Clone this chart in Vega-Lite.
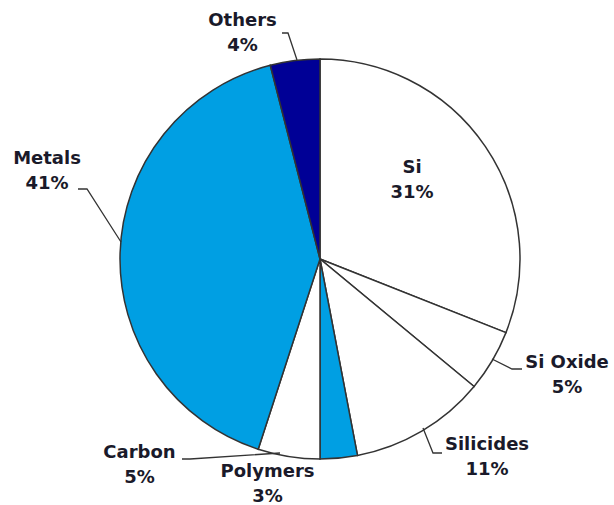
{
  "$schema": "https://vega.github.io/schema/vega-lite/v6.json",
  "width": 586,
  "height": 490,
  "autosize": {"type": "none"},
  "padding": {"left": 27, "top": 14, "right": 1, "bottom": 1},
  "background": "white",
  "config": {"view": {"stroke": null}},
  "datasets": {
    "slices": [
      {"k": 1, "name": "Si", "pct": 31, "lx": 0.46, "ly": 0.3925},
      {"k": 2, "name": "Si Oxide", "pct": 5, "lx": 1.235, "ly": -0.5825},
      {"k": 3, "name": "Silicides", "pct": 11, "lx": 0.835, "ly": -0.9925},
      {"k": 4, "name": "Polymers", "pct": 3, "lx": -0.2625, "ly": -1.125},
      {"k": 5, "name": "Carbon", "pct": 5, "lx": -0.9025, "ly": -1.03},
      {"k": 6, "name": "Metals", "pct": 41, "lx": -1.365, "ly": 0.44},
      {"k": 7, "name": "Others", "pct": 4, "lx": -0.3875, "ly": 1.1275}
    ],
    "leaders": [
      {"lead": "Others", "i": 1, "x": -0.19, "y": 1.13},
      {"lead": "Others", "i": 2, "x": -0.16, "y": 1.13},
      {"lead": "Others", "i": 3, "x": -0.115, "y": 0.995},
      {"lead": "Metals", "i": 1, "x": -1.21, "y": 0.35},
      {"lead": "Metals", "i": 2, "x": -1.165, "y": 0.35},
      {"lead": "Metals", "i": 3, "x": -0.995, "y": 0.085},
      {"lead": "Si Oxide", "i": 1, "x": 0.86, "y": -0.5},
      {"lead": "Si Oxide", "i": 2, "x": 0.96, "y": -0.55},
      {"lead": "Si Oxide", "i": 3, "x": 1.01, "y": -0.55},
      {"lead": "Silicides", "i": 1, "x": 0.515, "y": -0.845},
      {"lead": "Silicides", "i": 2, "x": 0.565, "y": -0.97},
      {"lead": "Silicides", "i": 3, "x": 0.61, "y": -0.97},
      {"lead": "Carbon", "i": 1, "x": -0.69, "y": -1.0},
      {"lead": "Carbon", "i": 2, "x": -0.65, "y": -1.0},
      {"lead": "Carbon", "i": 3, "x": -0.2, "y": -0.97}
    ]
  },
  "layer": [
    {
      "data": {"name": "slices"},
      "mark": {"type": "arc", "outerRadius": 200, "stroke": "#333333", "strokeWidth": 1.5},
      "encoding": {
        "theta": {"field": "pct", "type": "quantitative", "stack": true},
        "order": {"field": "k", "type": "quantitative"},
        "color": {
          "field": "name",
          "type": "nominal",
          "legend": null,
          "scale": {
            "domain": ["Si", "Si Oxide", "Silicides", "Polymers", "Carbon", "Metals", "Others"],
            "range": ["#ffffff", "#ffffff", "#ffffff", "#009fe3", "#ffffff", "#009fe3", "#000096"]
          }
        }
      }
    },
    {
      "data": {"name": "leaders"},
      "mark": {"type": "line", "stroke": "#333333", "strokeWidth": 1.3},
      "encoding": {
        "x": {"field": "x", "type": "quantitative", "axis": null, "scale": {"domain": [-1.465, 1.465], "nice": false, "zero": false}},
        "y": {"field": "y", "type": "quantitative", "axis": null, "scale": {"domain": [-1.225, 1.225], "nice": false, "zero": false}},
        "detail": {"field": "lead"},
        "order": {"field": "i", "type": "quantitative"}
      }
    },
    {
      "data": {"name": "slices"},
      "transform": [
        {"calculate": "datum.name + '\\n' + datum.pct + '%'", "as": "label"}
      ],
      "mark": {
        "type": "text",
        "font": "DejaVu Sans",
        "fontWeight": "bold",
        "fontSize": 18,
        "lineHeight": 25,
        "lineBreak": "\n",
        "align": "center",
        "baseline": "middle",
        "dy": -12.5,
        "fill": "#1a1a2a"
      },
      "encoding": {
        "x": {"field": "lx", "type": "quantitative", "axis": null, "scale": {"domain": [-1.465, 1.465], "nice": false, "zero": false}},
        "y": {"field": "ly", "type": "quantitative", "axis": null, "scale": {"domain": [-1.225, 1.225], "nice": false, "zero": false}},
        "text": {"field": "label"}
      }
    }
  ]
}
